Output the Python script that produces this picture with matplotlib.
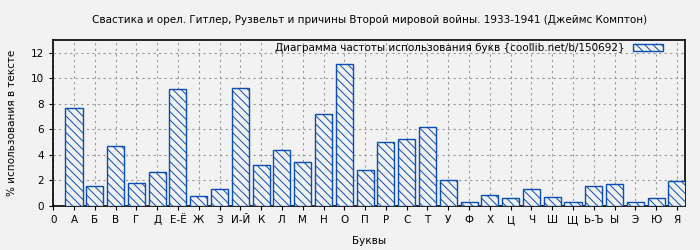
import numpy as np
import matplotlib
matplotlib.use("Agg")
from matplotlib import pyplot as plt

# Letter frequencies
letters = ['А', 'Б', 'В', 'Г', 'Д', 'Е-Ё', 'Ж', 'З', 'И-Й', 'К', 'Л', 'М', 'Н',
           'О', 'П', 'Р', 'С', 'Т', 'У', 'Ф', 'Х', 'Ц', 'Ч', 'Ш', 'Щ', 'Ь-Ъ',
           'Ы', 'Э', 'Ю', 'Я']
percent = [7.70, 1.56, 4.66, 1.77, 2.63, 9.19, 0.75, 1.30, 9.27, 3.25, 4.35,
           3.41, 7.24, 11.14, 2.79, 5.05, 5.21, 6.22, 2.00, 0.29, 0.86, 0.60,
           1.30, 0.68, 0.29, 1.56, 1.69, 0.29, 0.60, 1.93]

title = 'Свастика и орел. Гитлер, Рузвельт и причины Второй мировой войны. 1933-1941 (Джеймс Комптон)'
legend_label = 'Диаграмма частоты использования букв {coollib.net/b/150692}'

bg = '#f2f2f2'
blue = '#0a4db4'


def draw():
    plt.rcParams['font.family'] = ['DejaVu Sans']
    plt.rcParams['hatch.linewidth'] = 0.7
    fig = plt.figure(figsize=(7, 2.5), dpi=100, facecolor=bg)
    ax = fig.add_axes([0.076, 0.176, 0.903, 0.664], facecolor=bg)

    x = np.arange(1, len(letters) + 1)
    ax.bar(x, percent, width=0.82, facecolor=bg, edgecolor=blue,
           linewidth=1.0, hatch='\\\\\\\\', label=legend_label, zorder=3)

    ax.set_xlim(0, 30.4)
    ax.set_ylim(0, 13)
    ax.set_xticks(np.arange(0, len(letters) + 1))
    ax.set_xticklabels(['0'] + letters)
    ax.set_yticks(np.arange(0, 13, 2))
    ax.tick_params(labelsize=7.5, length=3, width=0.8)
    ax.grid(True, color='#999999', linestyle=(0, (2, 3)), linewidth=0.8, zorder=0)
    for s in ax.spines.values():
        s.set_linewidth(1.2)

    ax.set_title(title, fontsize=7.5, pad=12)
    ax.set_xlabel('Буквы', fontsize=7.5, labelpad=8)
    ax.set_ylabel('% использования в тексте', fontsize=7.5, labelpad=10)

    ax.legend(loc='upper right', bbox_to_anchor=(0.97, 1.0), frameon=False,
              fontsize=7.5, markerfirst=False, handlelength=2.9,
              handleheight=0.6, borderaxespad=0.1, borderpad=0.2)
    fig.savefig('out.png', dpi=100, facecolor=bg)


if __name__ == '__main__':
    draw()
